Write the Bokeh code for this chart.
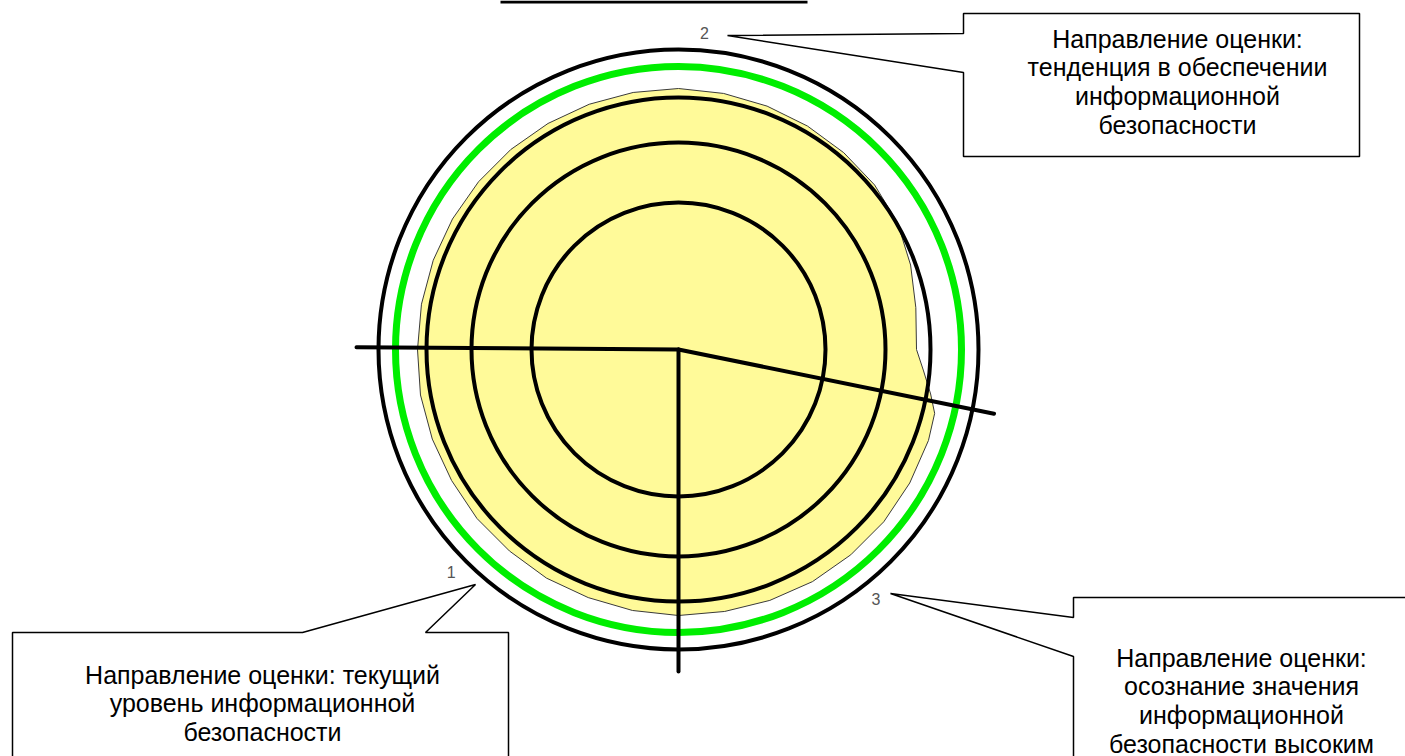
import numpy as np
from bokeh.plotting import figure
from bokeh.models import Range1d
from bokeh.embed import file_html
from bokeh.resources import INLINE
from bokeh.core.properties import value

# ---------------- data ----------------
axis_labels = ["1", "2", "3"]
label_angles = [224.4, 85.3, 308.4]          # degrees, where the axis numbers sit
spoke_angles = [179.6, 270.0, 348.5]         # degrees of the three drawn axes
spoke_length = 322
ring_radii = [147, 207, 252, 300]            # black scale rings
max_ring_radius = 283                        # green ring

area_angles = [0, 10, 20, 30, 40, 50, 60, 70, 80, 90, 100, 110, 120, 130, 140,
               150, 160, 170, 180, 190, 200, 210, 220, 230, 240, 250, 260, 270,
               280, 290, 300, 310, 320, 330, 340, 346, 350, 355]
area_radii = [238, 241, 247, 253, 256, 257, 258, 259, 260, 261, 261, 261, 261,
              261, 261, 261, 261, 261, 261, 262, 262, 262, 263, 263, 264, 264,
              265, 266, 266, 267, 268, 268, 268, 267, 266, 264, 256, 246]

callout_top = ["Направление оценки:", "тенденция в обеспечении",
               "информационной", "безопасности"]
callout_left = ["Направление оценки: текущий", "уровень информационной",
                "безопасности"]
callout_right = ["Направление оценки:", "осознание значения",
                 "информационной", "безопасности высоким"]

# ---------------- layout ----------------
W, H = 1405, 756
cx, cy = 678, 349
FONT = value("Liberation Sans")

p = figure(width=W, height=H, output_backend="svg", toolbar_location=None,
           x_range=Range1d(0, W), y_range=Range1d(H, 0),
           x_axis_type=None, y_axis_type=None, min_border=0,
           margin=(0, 0, 0, 0))
p.grid.visible = False
p.outline_line_color = None
p.background_fill_color = "white"
p.border_fill_color = "white"

def polar(angles_deg, radii):
    a = np.radians(np.asarray(angles_deg, dtype=float))
    r = np.asarray(radii, dtype=float)
    return cx + r * np.cos(a), cy - r * np.sin(a)

# filled assessment area
ax_, ay_ = polar(area_angles, area_radii)
p.patch(list(ax_), list(ay_), fill_color="#FFFA99", line_color="#3a3a3a",
        line_width=1)

# rings
p.circle(x=[cx] * len(ring_radii), y=[cy] * len(ring_radii), radius=ring_radii,
         fill_color=None, line_color="black", line_width=4)
p.circle(x=[cx], y=[cy], radius=[max_ring_radius], fill_color=None,
         line_color="#00EE00", line_width=7)

# spokes
sx, sy = polar(spoke_angles, [spoke_length] * len(spoke_angles))
p.segment(x0=[cx] * len(sx), y0=[cy] * len(sy), x1=list(sx), y1=list(sy),
          line_color="black", line_width=4, line_cap="round")

# axis numbers
lx, ly = polar(label_angles, [318] * len(label_angles))
p.text(x=list(lx), y=list(ly), text=axis_labels, text_font=FONT,
       text_font_size="16px", text_color="#555555", text_align="center",
       text_baseline="middle")

# top bar (edge of a frame above)
p.quad(left=[500], right=[807], top=[0], bottom=[3], fill_color="black",
       line_color=None)

# callouts
box_style = dict(fill_color="white", line_color="black", line_width=1.5)
p.patch([963, 1359, 1359, 963, 963, 727, 963, 963],
        [13, 13, 156, 156, 72, 35, 33, 13], **box_style)
p.patch([12, 302, 475, 425, 508, 508, 12, 12],
        [632, 632, 584, 632, 632, 770, 770, 632], **box_style)
p.patch([1073, 1420, 1420, 1073, 1073, 890, 1073, 1073],
        [597, 597, 770, 770, 656, 593, 617, 597], **box_style)

def block(lines, xc, y0, step=28.8):
    p.text(x=[xc] * len(lines), y=[y0 + i * step for i in range(len(lines))],
           text=lines, text_font=FONT, text_font_size="25px",
           text_color="black", text_align="center",
           text_baseline="alphabetic")

block(callout_top, 1177, 38)
block(callout_left, 262, 674)
block(callout_right, 1241, 657)

open("out.html", "w").write(file_html(p, INLINE))
